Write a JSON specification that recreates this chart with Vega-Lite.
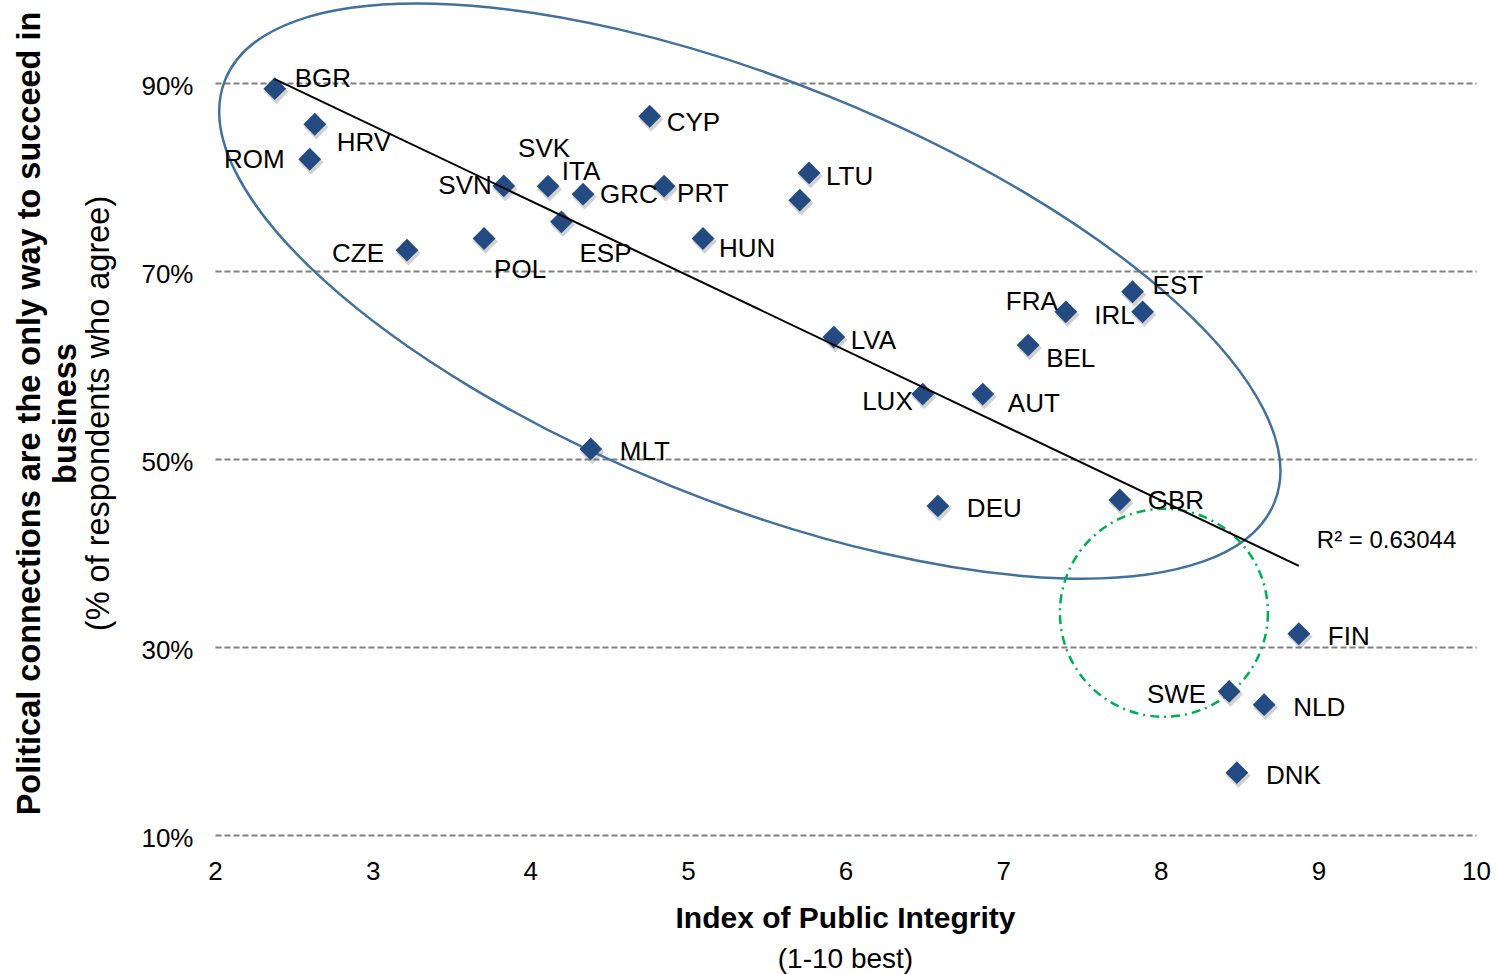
{
  "$schema": "https://vega.github.io/schema/vega-lite/v6.json",
  "width": 1261,
  "height": 752,
  "autosize": {"type": "none"},
  "padding": {"left": 215, "top": 83, "right": 20, "bottom": 139},
  "background": "white",
  "config": {"view": {"stroke": null}, "font": "Liberation Sans"},
  "datasets": {
    "countries": [
      {"country": "BGR", "ipi": 2.379, "pct": 89.40},
      {"country": "HRV", "ipi": 2.633, "pct": 85.61},
      {"country": "ROM", "ipi": 2.601, "pct": 81.89},
      {"country": "CZE", "ipi": 3.218, "pct": 72.22},
      {"country": "SVN", "ipi": 3.832, "pct": 79.05},
      {"country": "SVK", "ipi": 4.113, "pct": 79.02},
      {"country": "GRC", "ipi": 4.335, "pct": 78.17},
      {"country": "PRT", "ipi": 4.849, "pct": 79.02},
      {"country": "ESP", "ipi": 4.198, "pct": 75.23},
      {"country": "POL", "ipi": 3.707, "pct": 73.46},
      {"country": "HUN", "ipi": 5.096, "pct": 73.46},
      {"country": "LTU", "ipi": 5.769, "pct": 80.43},
      {"country": "ITA", "ipi": 5.710, "pct": 77.53},
      {"country": "CYP", "ipi": 4.758, "pct": 86.46},
      {"country": "MLT", "ipi": 4.384, "pct": 51.07},
      {"country": "LVA", "ipi": 5.926, "pct": 62.97},
      {"country": "LUX", "ipi": 6.490, "pct": 56.91},
      {"country": "AUT", "ipi": 6.871, "pct": 56.91},
      {"country": "DEU", "ipi": 6.586, "pct": 45.01},
      {"country": "BEL", "ipi": 7.159, "pct": 62.12},
      {"country": "FRA", "ipi": 7.398, "pct": 65.66},
      {"country": "EST", "ipi": 7.821, "pct": 67.79},
      {"country": "IRL", "ipi": 7.885, "pct": 65.66},
      {"country": "GBR", "ipi": 7.740, "pct": 45.65},
      {"country": "FIN", "ipi": 8.876, "pct": 31.41},
      {"country": "SWE", "ipi": 8.434, "pct": 25.27},
      {"country": "NLD", "ipi": 8.656, "pct": 23.86},
      {"country": "DNK", "ipi": 8.483, "pct": 16.63}
    ]
  },
  "layer": [
    {
      "encoding": {
        "x": {
          "field": "ipi", "type": "quantitative",
          "scale": {"domain": [2, 10], "nice": false, "zero": false},
          "axis": {
            "orient": "bottom", "values": [2, 3, 4, 5, 6, 7, 8, 9, 10], "labelFlush": false,
            "labelFontSize": 26, "labelColor": "#000000", "labelBaseline": "alphabetic",
            "labelPadding": 44, "ticks": false, "tickSize": 0, "domain": false, "grid": false,
            "title": "Index of Public Integrity", "titleFontSize": 30, "titleFontWeight": "bold",
            "titleColor": "#000000", "titleX": 630, "titleY": 92, "titleAlign": "center",
            "titleBaseline": "alphabetic"
          }
        },
        "y": {
          "field": "pct", "type": "quantitative",
          "scale": {"domain": [10, 90], "nice": false, "zero": false},
          "axis": {
            "orient": "left", "values": [10, 30, 50, 70, 90], "labelExpr": "datum.value + '%'",
            "labelFlush": false, "labelFontSize": 26, "labelColor": "#000000", "labelBaseline": "alphabetic",
            "labelOffset": 11, "labelPadding": 22, "ticks": false, "tickSize": 0, "domain": false,
            "grid": true, "gridDash": [6, 3], "gridColor": "#808080", "gridWidth": 2,
            "title": ["Political connections are the only way to succeed in", "business"],
            "titleFontSize": 32.5, "titleFontWeight": "bold", "titleColor": "#000000",
            "titleAngle": 270, "titleX": -176, "titleY": 330, "titleAlign": "center",
            "titleBaseline": "alphabetic", "titleLineHeight": 36
          }
        }
      },
      "layer": [
        {
          "data": {"values": [{"ipi": 5.393, "pct": 67.86}]},
          "mark": {
            "type": "point", "filled": false, "opacity": 1, "color": "#41719C", "strokeWidth": 2.5,
            "size": 1279613, "angle": 21.93,
            "shape": "M 1 0 C 1 0.2053 0.5523 0.3718 0 0.3718 C -0.5523 0.3718 -1 0.2053 -1 0 C -1 -0.2053 -0.5523 -0.3718 0 -0.3718 C 0.5523 -0.3718 1 -0.2053 1 0 Z"
          }
        },
        {
          "data": {"values": [{"ipi": 8.02, "pct": 33.64}]},
          "mark": {
            "type": "point", "filled": false, "opacity": 1, "color": "#00B050", "strokeWidth": 2.5,
            "size": 43264, "shape": "circle", "strokeDash": [9, 5, 2, 5]
          }
        },
        {
          "data": {"name": "countries"},
          "mark": {"type": "point", "shape": "diamond", "filled": true, "opacity": 0.3, "color": "#666666", "size": 600, "xOffset": 1.5, "yOffset": 3}
        },
        {
          "data": {"name": "countries"},
          "mark": {"type": "point", "shape": "diamond", "filled": true, "opacity": 1, "color": "#234B82", "size": 520}
        },
        {
          "data": {"name": "countries"},
          "transform": [{"regression": "pct", "on": "ipi"}],
          "mark": {"type": "line", "color": "#000000", "strokeWidth": 2}
        },
        {
          "data": {"name": "countries"},
          "transform": [{"filter": {"field": "country", "oneOf": ["LTU", "LVA"]}}],
          "mark": {"type": "text", "align": "left", "baseline": "alphabetic", "dx": 17, "dy": 12, "fontSize": 26, "color": "#000000"},
          "encoding": {"text": {"field": "country"}}
        },
        {
          "data": {"name": "countries"},
          "transform": [{"filter": {"field": "country", "oneOf": ["CYP"]}}],
          "mark": {"type": "text", "align": "left", "baseline": "alphabetic", "dx": 17, "dy": 15, "fontSize": 26, "color": "#000000"},
          "encoding": {"text": {"field": "country"}}
        },
        {
          "data": {"name": "countries"},
          "transform": [{"filter": {"field": "country", "oneOf": ["GRC"]}}],
          "mark": {"type": "text", "align": "left", "baseline": "alphabetic", "dx": 17, "dy": 9, "fontSize": 26, "color": "#000000"},
          "encoding": {"text": {"field": "country"}}
        },
        {
          "data": {"name": "countries"},
          "transform": [{"filter": {"field": "country", "oneOf": ["PRT"]}}],
          "mark": {"type": "text", "align": "left", "baseline": "alphabetic", "dx": 13, "dy": 16, "fontSize": 26, "color": "#000000"},
          "encoding": {"text": {"field": "country"}}
        },
        {
          "data": {"name": "countries"},
          "transform": [{"filter": {"field": "country", "oneOf": ["HUN"]}}],
          "mark": {"type": "text", "align": "left", "baseline": "alphabetic", "dx": 16, "dy": 19, "fontSize": 26, "color": "#000000"},
          "encoding": {"text": {"field": "country"}}
        },
        {
          "data": {"name": "countries"},
          "transform": [{"filter": {"field": "country", "oneOf": ["BEL"]}}],
          "mark": {"type": "text", "align": "left", "baseline": "alphabetic", "dx": 18, "dy": 22, "fontSize": 26, "color": "#000000"},
          "encoding": {"text": {"field": "country"}}
        },
        {
          "data": {"name": "countries"},
          "transform": [{"filter": {"field": "country", "oneOf": ["NLD", "DNK", "FIN", "DEU", "MLT"]}}],
          "mark": {"type": "text", "align": "left", "baseline": "alphabetic", "dx": 29, "dy": 11, "fontSize": 26, "color": "#000000"},
          "encoding": {"text": {"field": "country"}}
        },
        {
          "data": {"name": "countries"},
          "transform": [{"filter": {"field": "country", "oneOf": ["GBR"]}}],
          "mark": {"type": "text", "align": "left", "baseline": "alphabetic", "dx": 28, "dy": 9, "fontSize": 26, "color": "#000000"},
          "encoding": {"text": {"field": "country"}}
        },
        {
          "data": {"name": "countries"},
          "transform": [{"filter": {"field": "country", "oneOf": ["ROM"]}}],
          "mark": {"type": "text", "align": "right", "baseline": "alphabetic", "dx": -25, "dy": 9, "fontSize": 26, "color": "#000000"},
          "encoding": {"text": {"field": "country"}}
        },
        {
          "data": {"name": "countries"},
          "transform": [{"filter": {"field": "country", "oneOf": ["CZE", "SWE"]}}],
          "mark": {"type": "text", "align": "right", "baseline": "alphabetic", "dx": -23, "dy": 12, "fontSize": 26, "color": "#000000"},
          "encoding": {"text": {"field": "country"}}
        },
        {
          "data": {"name": "countries"},
          "transform": [{"filter": {"field": "country", "oneOf": ["SVN"]}}],
          "mark": {"type": "text", "align": "right", "baseline": "alphabetic", "dx": -12, "dy": 8, "fontSize": 26, "color": "#000000"},
          "encoding": {"text": {"field": "country"}}
        },
        {
          "data": {"name": "countries"},
          "transform": [{"filter": {"field": "country", "oneOf": ["LUX"]}}],
          "mark": {"type": "text", "align": "right", "baseline": "alphabetic", "dx": -10, "dy": 16, "fontSize": 26, "color": "#000000"},
          "encoding": {"text": {"field": "country"}}
        },
        {
          "data": {"name": "countries"},
          "transform": [{"filter": {"field": "country", "oneOf": ["IRL"]}}],
          "mark": {"type": "text", "align": "right", "baseline": "alphabetic", "dx": -8, "dy": 12, "fontSize": 26, "color": "#000000"},
          "encoding": {"text": {"field": "country"}}
        },
        {
          "data": {"name": "countries"},
          "transform": [{"filter": {"field": "country", "oneOf": ["FRA"]}}],
          "mark": {"type": "text", "align": "right", "baseline": "alphabetic", "dx": -8, "dy": -2, "fontSize": 26, "color": "#000000"},
          "encoding": {"text": {"field": "country"}}
        },
        {
          "data": {"name": "countries"},
          "transform": [{"filter": {"field": "country", "oneOf": ["BGR"]}}],
          "mark": {"type": "text", "align": "left", "baseline": "alphabetic", "dx": 20, "dy": -2, "fontSize": 26, "color": "#000000"},
          "encoding": {"text": {"field": "country"}}
        },
        {
          "data": {"name": "countries"},
          "transform": [{"filter": {"field": "country", "oneOf": ["EST"]}}],
          "mark": {"type": "text", "align": "left", "baseline": "alphabetic", "dx": 20, "dy": 2, "fontSize": 26, "color": "#000000"},
          "encoding": {"text": {"field": "country"}}
        },
        {
          "data": {"name": "countries"},
          "transform": [{"filter": {"field": "country", "oneOf": ["ESP"]}}],
          "mark": {"type": "text", "align": "left", "baseline": "alphabetic", "dx": 18, "dy": 40, "fontSize": 26, "color": "#000000"},
          "encoding": {"text": {"field": "country"}}
        },
        {
          "data": {"name": "countries"},
          "transform": [{"filter": {"field": "country", "oneOf": ["POL"]}}],
          "mark": {"type": "text", "align": "left", "baseline": "alphabetic", "dx": 10, "dy": 40, "fontSize": 26, "color": "#000000"},
          "encoding": {"text": {"field": "country"}}
        },
        {
          "data": {"name": "countries"},
          "transform": [{"filter": {"field": "country", "oneOf": ["HRV"]}}],
          "mark": {"type": "text", "align": "left", "baseline": "alphabetic", "dx": 22, "dy": 27, "fontSize": 26, "color": "#000000"},
          "encoding": {"text": {"field": "country"}}
        },
        {
          "data": {"name": "countries"},
          "transform": [{"filter": {"field": "country", "oneOf": ["SVK"]}}],
          "mark": {"type": "text", "align": "left", "baseline": "alphabetic", "dx": -30, "dy": -29, "fontSize": 26, "color": "#000000"},
          "encoding": {"text": {"field": "country"}}
        },
        {
          "data": {"name": "countries"},
          "transform": [{"filter": {"field": "country", "oneOf": ["ITA"]}}],
          "mark": {"type": "text", "align": "left", "baseline": "alphabetic", "dx": -238, "dy": -20, "fontSize": 26, "color": "#000000"},
          "encoding": {"text": {"field": "country"}}
        },
        {
          "data": {"name": "countries"},
          "transform": [{"filter": {"field": "country", "oneOf": ["AUT"]}}],
          "mark": {"type": "text", "align": "left", "baseline": "alphabetic", "dx": 25, "dy": 18, "fontSize": 26, "color": "#000000"},
          "encoding": {"text": {"field": "country"}}
        }
      ]
    },
    {
      "data": {"values": [{"note": "R² = 0.63044", "ipi": 8.99, "pct": 40.58}]},
      "mark": {"type": "text", "align": "left", "baseline": "alphabetic", "fontSize": 24, "color": "#000000"},
      "encoding": {
        "x": {
          "field": "ipi", "type": "quantitative",
          "scale": {"domain": [2, 10], "nice": false, "zero": false},
          "axis": {
            "orient": "bottom", "labels": false, "ticks": false, "tickSize": 0, "domain": false, "grid": false,
            "title": "(1-10 best)", "titleFontSize": 28, "titleFontWeight": "normal", "titleColor": "#000000",
            "titleX": 630, "titleY": 132, "titleAlign": "center", "titleBaseline": "alphabetic"
          }
        },
        "y": {
          "field": "pct", "type": "quantitative",
          "scale": {"domain": [10, 90], "nice": false, "zero": false},
          "axis": {
            "orient": "left", "labels": false, "ticks": false, "tickSize": 0, "domain": false, "grid": false,
            "title": "(% of respondents who agree)", "titleFontSize": 32.5, "titleFontWeight": "normal",
            "titleColor": "#000000", "titleAngle": 270, "titleX": -107, "titleY": 330,
            "titleAlign": "center", "titleBaseline": "alphabetic"
          }
        },
        "text": {"field": "note"}
      }
    }
  ],
  "resolve": {"scale": {"x": "independent", "y": "independent"}}
}
